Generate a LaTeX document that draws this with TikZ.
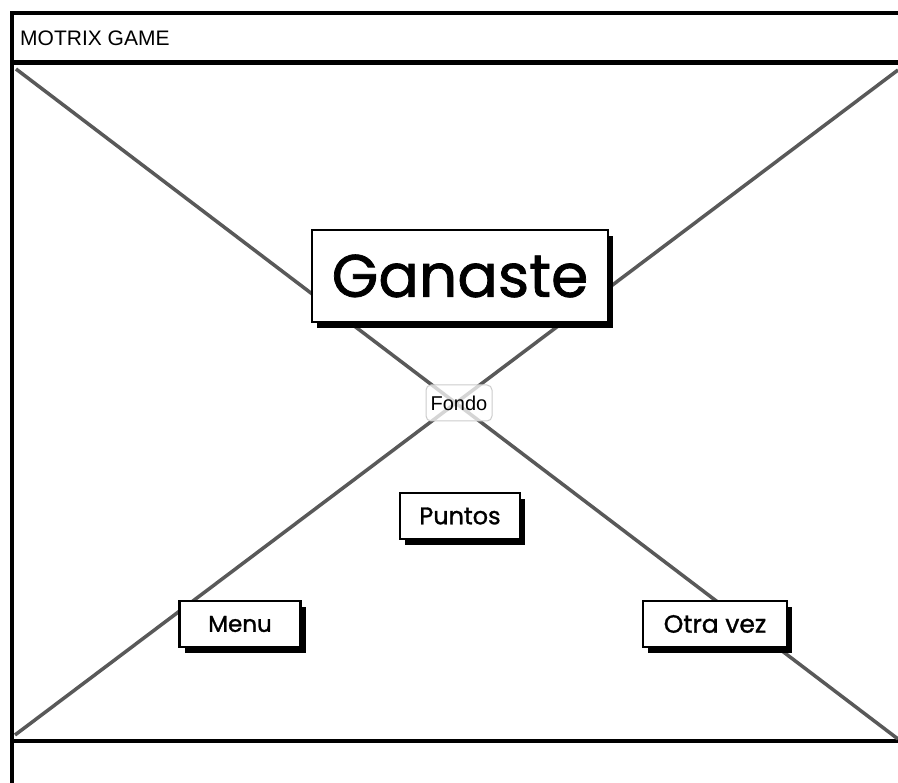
\documentclass[tikz,border=0pt]{standalone}
\usepackage{fontspec}
\setmainfont{Poppins}
\newfontfamily\sketchfont[FakeBold=1.2]{Poppins}
\newfontfamily\arialfont{Liberation Sans}
\usetikzlibrary{shadows}
\tikzset{
  frameline/.style={line width=4pt, black},
  diag/.style={line width=3.5pt, draw=black!65},
  wbox/.style={draw=black, line width=2.2pt, fill=white, inner sep=0pt,
    drop shadow={shadow xshift=5pt, shadow yshift=-6pt, fill=black, opacity=1}},
  fondobox/.style={draw=black!20, line width=1pt, rounded corners=5pt, fill=white, fill opacity=0.75, text opacity=1, inner sep=0pt,
    minimum width=66pt, minimum height=36pt, font=\arialfont\fontsize{20}{22}\selectfont}
}
\begin{document}
\begin{tikzpicture}[x=1pt,y=-1pt]
\useasboundingbox (0,0) rectangle (898,783);
\fill[white] (0,0) rectangle (898,783);
% frame
\draw[frameline] (12,783) -- (12,13) -- (898,13);
\draw[line width=5pt] (12,63) -- (898,63);
\draw[frameline] (12,741) -- (898,741);
\node[anchor=west, inner sep=0pt, font=\arialfont\fontsize{21}{23}\selectfont] (title) at (20,38) {MOTRIX GAME};
% image placeholder diagonals
\coordinate (tl) at (16,69);
\coordinate (br) at (898,739);
\coordinate (tr) at (898,70);
\coordinate (bl) at (15,735);
\draw[diag] (tl) -- (br);
\draw[diag] (tr) -- (bl);
% boxes
\node[wbox, minimum width=296pt, minimum height=92pt, font=\sketchfont\fontsize{60}{64}\selectfont] (ganaste) at (460,276) {Ganaste};
\node[fondobox] (fondo) at (459,403) {Fondo};
\node[wbox, minimum width=120pt, minimum height=46pt, font=\sketchfont\fontsize{24}{26}\selectfont] (puntos) at (460,516) {Puntos};
\node[wbox, minimum width=121pt, minimum height=46pt, font=\sketchfont\fontsize{23}{26}\selectfont] (menu) at (240,624) {Menu};
\node[wbox, minimum width=144pt, minimum height=46pt, font=\sketchfont\fontsize{25}{27}\selectfont] (otra) at (715,624) {Otra vez};
\end{tikzpicture}
\end{document}
